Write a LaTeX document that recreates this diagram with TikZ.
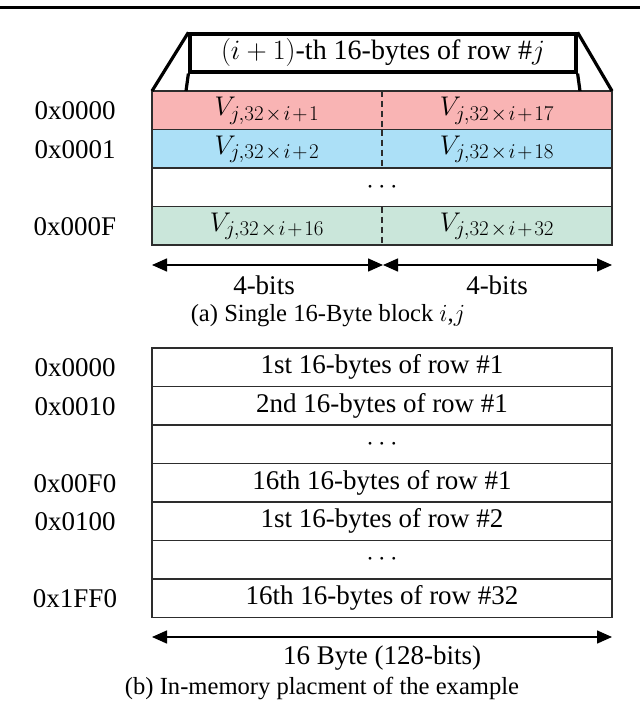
\RequirePackage{fix-cm}
\documentclass[tikz,border=0pt]{standalone}
\usepackage{fontspec}
\setmainfont{Liberation Serif}
\usetikzlibrary{arrows.meta}
\DeclareMathSizes{27}{27}{21}{16}
\DeclareMathSizes{28}{28}{21}{16}
\definecolor{rowpink}{RGB}{249,180,180}
\definecolor{rowblue}{RGB}{172,224,247}
\definecolor{rowgreen}{RGB}{202,230,218}
\definecolor{linegray}{RGB}{45,45,45}
\newcommand{\vsub}[1]{$V_{j,32\mskip1.5mu\times\mskip1.5mu i\mskip1.5mu+\mskip1.5mu #1}$}
\begin{document}
\begin{tikzpicture}[x=1pt,y=-1pt,
  txt/.style={font=\fontsize{27}{32}\selectfont, inner sep=0pt},
  captiontext/.style={font=\fontsize{24.6}{30}\selectfont, inner sep=0pt},
  cell/.style={draw=linegray, line width=1.6pt, minimum width=460pt, minimum height=38.5pt,
    inner sep=0pt, outer sep=0pt, anchor=north west, font=\fontsize{27}{32}\selectfont},
  divider/.style={draw=linegray, line width=1.3pt, dash pattern=on 6pt off 4pt},
  thick line/.style={draw=black, line width=3.2pt, line join=miter},
  dimarrow/.style={line width=1.5pt, {Triangle[length=15pt,width=13pt]}-{Triangle[length=15pt,width=13pt]}}
]
\useasboundingbox (0,0) rectangle (640,706);
% top rule
\draw[line width=3.6pt] (0,7.5) -- (640,7.5);

% ---------------- (a) ----------------
\node[cell, fill=rowpink]  (a1) at (152,91)  {};
\node[cell, fill=rowblue]  (a2) at (152,129.5) {};
\node[cell, fill=white]    (a3) at (152,168) {$\cdots$};
\node[cell, fill=rowgreen] (a4) at (152,206.5) {};

\draw[divider] (a1.north) -- (a1.south);
\draw[divider] (a2.north) -- (a2.south);
\draw[divider] (a4.north) -- (a4.south);

\node[txt] (v1)  at (267,111)   {\vsub{1}};
\node[txt] (v17) at (497,111)   {\vsub{17}};
\node[txt] (v2)  at (267,149.5) {\vsub{2}};
\node[txt] (v18) at (497,149.5) {\vsub{18}};
\node[txt] (v16) at (267,226.5) {\vsub{16}};
\node[txt] (v32) at (497,226.5) {\vsub{32}};

\node[txt] (la1) at (75,111)   {0x0000};
\node[txt] (la2) at (75,149.5) {0x0001};
\node[txt] (la4) at (75,226.5) {0x000F};

% header trapezoid
\node[thick line, fill=white, minimum width=386pt, minimum height=38pt, inner sep=0pt,
  font=\fontsize{28}{33}\selectfont] (hdr) at (383,53) {$(i+1)$-th 16-bytes of row \#$j$};
\coordinate (hl) at (186,91);
\coordinate (hr) at (580,91);
\draw[thick line] (hdr.north west) -- (a1.north west);
\draw[thick line] (hdr.north east) -- (a1.north east);
\draw[thick line] (hdr.south west) -- (hl);
\draw[thick line] (hdr.south east) -- (hr);

% dimension arrows
\coordinate (al) at (152,265);
\coordinate (am) at (383,265);
\coordinate (ar) at (612,265);
\draw[dimarrow] (al) -- (am);
\draw[dimarrow] (am) -- (ar);
\node[txt] (b1) at (264,285) {4-bits};
\node[txt] (b2) at (497,285) {4-bits};
\node[captiontext] (capa) at (328,316) {(a) Single 16-Byte block $i$,$j$};

% ---------------- (b) ----------------
\node[cell] (r1) at (152,348)   {1st 16-bytes of row \#1};
\node[cell] (r2) at (152,386.5) {2nd 16-bytes of row \#1};
\node[cell] (r3) at (152,425)   {$\cdots$};
\node[cell] (r4) at (152,463.5) {16th 16-bytes of row \#1};
\node[cell] (r5) at (152,502)   {1st 16-bytes of row \#2};
\node[cell] (r6) at (152,540.5) {$\cdots$};
\node[cell] (r7) at (152,579)   {16th 16-bytes of row \#32};

\node[txt] (lb1) at (75,368)   {0x0000};
\node[txt] (lb2) at (75,406.5) {0x0010};
\node[txt] (lb4) at (75,483.5) {0x00F0};
\node[txt] (lb5) at (75,522)   {0x0100};
\node[txt] (lb7) at (75,599)   {0x1FF0};

\coordinate (bl) at (152,637);
\coordinate (br) at (612,637);
\draw[dimarrow] (bl) -- (br);
\node[txt] (bw) at (382,658) {16 Byte (128-bits)};
\node[captiontext] (capb) at (322,688) {(b) In-memory placment of the example};
\end{tikzpicture}
\end{document}
